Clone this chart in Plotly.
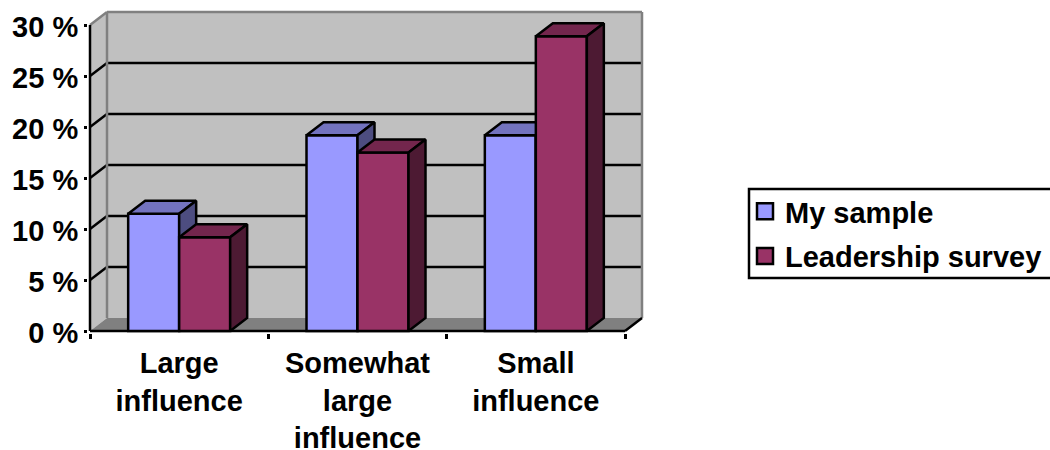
import plotly.graph_objects as go

# Chart data
categories = ["Large<br>influence", "Somewhat<br>large<br>influence", "Small<br>influence"]
my_sample = [11.5, 19.2, 19.2]
leadership_survey = [9.2, 17.5, 28.9]
y_ticks = [0, 5, 10, 15, 20, 25, 30]
y_tick_labels = ["0 %", "5 %", "10 %", "15 %", "20 %", "25 %", "30 %"]

# Series styles: front, top and side shading
BLUE = ("#9999FF", "#7373BF", "#4D4D80")
PLUM = ("#993366", "#73264D", "#4D1A33")
WALL = "#C0C0C0"
EDGE = "#808080"
FONT = dict(family="Liberation Sans, Arial, sans-serif", size=29, color="black", weight=700)
STROKE = 2.5

# Pixel geometry of the plot frame and the oblique projection
LEFT, RIGHT, BOTTOM = 90, 625, 331
PX_X = (RIGHT - LEFT) / 3
PX_Y = 10.2
DX = 17 / PX_X        # depth along x, in category units
DY = 13 / PX_Y        # depth along y, in percent
PAD_X = 2 / PX_X
PAD_Y = 2 / PX_Y
BAR_W = 51 / PX_X

centres = [i + 0.5 for i in range(len(categories))]
x_max = len(categories)
y_max = y_ticks[-1]


def poly(points, fill, name):
    xs, ys = zip(*(points + [points[0]]))
    return go.Scatter(
        x=xs, y=ys, mode="lines", fill="toself", fillcolor=fill, name=name,
        line=dict(color="black", width=STROKE), showlegend=False, hoverinfo="skip",
    )


def series(values, colours, offset, name, xa, ya):
    """Front face as a bar, then the top and side faces derived from the values."""
    traces = [go.Bar(
        x=centres, y=values, width=[BAR_W] * 3, offset=[offset] * 3, name=name,
        marker=dict(color=colours[0], line=dict(color="black", width=STROKE)),
        showlegend=False,
    )]
    for c, v in zip(centres, values):
        x0, x1 = c + offset, c + offset + BAR_W
        traces.append(poly([(x0, v), (x1, v), (x1 + DX, v + DY), (x0 + DX, v + DY)], colours[1], name))
        traces.append(poly([(x1, 0), (x1, v), (x1 + DX, v + DY), (x1 + DX, DY)], colours[2], name))
    for t in traces:
        t.update(xaxis=xa, yaxis=ya)
    return traces


def seg(x0, y0, x1, y1, color, width=STROKE):
    return dict(type="line", xref="x", yref="y", x0=x0, y0=y0, x1=x1, y1=y1,
                layer="below", line=dict(color=color, width=width))


def area(path, fill):
    d = "M " + " L ".join(f"{x},{y}" for x, y in path) + " Z"
    return dict(type="path", xref="x", yref="y", path=d, fillcolor=fill,
                layer="below", line=dict(width=0))


shapes = [
    area([(DX, DY), (x_max + DX, DY), (x_max + DX, y_max + DY), (DX, y_max + DY)], WALL),
    area([(0, 0), (DX, DY), (DX, y_max + DY), (0, y_max)], WALL),
    area([(0, 0), (DX, DY), (x_max + DX, DY), (x_max, 0)], EDGE),
]
for v in y_ticks[1:-1]:
    shapes.append(seg(0, v, DX, v + DY, "black"))
    shapes.append(seg(DX, v + DY, x_max + DX, v + DY, "black"))
shapes += [
    seg(DX, DY, DX, y_max + DY, EDGE),
    seg(0, y_max, DX, y_max + DY, EDGE),
    seg(DX, y_max + DY, x_max + DX, y_max + DY, EDGE),
    seg(x_max + DX, DY, x_max + DX, y_max + DY, EDGE),
    seg(x_max, 0, x_max + DX, DY, "black"),
    seg(0, 0, 0, y_max, "black"),
    seg(0, 0, x_max, 0, "black"),
]

fig = go.Figure()
fig.add_traces(series(my_sample, BLUE, -BAR_W, "My sample", "x", "y"))
fig.add_traces(series(leadership_survey, PLUM, 0, "Leadership survey", "x2", "y2"))

# Legend entries with square swatches
for name, colours in (("My sample", BLUE), ("Leadership survey", PLUM)):
    fig.add_trace(go.Scatter(
        x=[None], y=[None], mode="markers", name=name, legendgroup=name,
        marker=dict(symbol="square", size=19, color=colours[0], line=dict(color="black", width=2.5)),
    ))

x_range = [-PAD_X, x_max + DX + PAD_X]
y_range = [-PAD_Y, y_max + DY + PAD_Y]
margin = dict(l=LEFT - 2, r=1050 - (RIGHT + 17 + 2), t=round(BOTTOM - (y_max + DY) * PX_Y) - 2, b=450 - BOTTOM - 2, pad=0, autoexpand=False)
plot_w = 1050 - margin["l"] - margin["r"]
plot_h = 450 - margin["t"] - margin["b"]

# Frame around the legend, in page fractions
shapes.append(dict(type="rect", xref="paper", yref="paper",
                   x0=(749 - margin["l"]) / plot_w, x1=(1060 - margin["l"]) / plot_w,
                   y0=1 - (278 - margin["t"]) / plot_h, y1=1 - (189 - margin["t"]) / plot_h,
                   layer="below", fillcolor="white", line=dict(color="black", width=STROKE)))

fig.update_layout(
    width=1050, height=450, margin=margin, paper_bgcolor="white", plot_bgcolor="white",
    font=FONT, shapes=shapes,
    xaxis=dict(
        range=x_range, tickmode="array", tickvals=centres, ticktext=categories,
        ticks="", showgrid=False, zeroline=False, showline=False,
        tickfont=FONT, tickangle=0, ticklabelstandoff=10,
        minor=dict(tickmode="array", tickvals=list(range(x_max + 1)), ticks="outside",
                   ticklen=5, tickwidth=2.5, tickcolor="black", showgrid=False),
    ),
    yaxis=dict(
        range=y_range, tickmode="array", tickvals=y_ticks, ticktext=y_tick_labels,
        ticks="outside", ticklen=3, tickwidth=2.5, tickcolor="black",
        showgrid=False, zeroline=False, showline=False, tickfont=FONT,
        ticklabelshift=2,
    ),
    xaxis2=dict(overlaying="x", matches="x", visible=False),
    yaxis2=dict(overlaying="y", matches="y", visible=False),
    showlegend=True,
    legend=dict(
        x=(745 - margin["l"]) / plot_w, xanchor="left",
        y=1 - (186 - margin["t"]) / plot_h, yanchor="top",
        bgcolor="rgba(0,0,0,0)", borderwidth=0, font=FONT,
        tracegroupgap=4,
    ),
)

fig.write_html("out.html")
